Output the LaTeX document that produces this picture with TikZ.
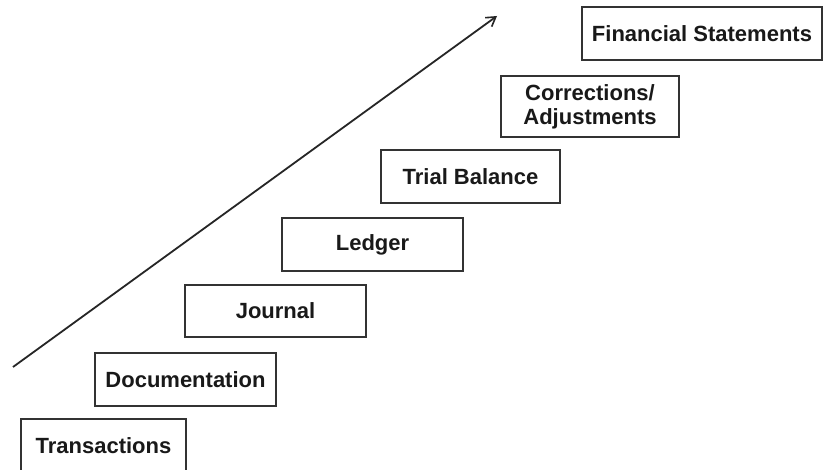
\documentclass[tikz,border=0pt]{standalone}
\usepackage{fontspec}
\setmainfont{Liberation Sans}
\usetikzlibrary{arrows.meta}
\begin{document}
\begin{tikzpicture}[x=1pt,y=-1pt,
  stepbox/.style={draw=black!80, line width=1.4pt, rectangle, inner sep=0pt,
    text=black!90, align=center,
    font=\fontsize{22}{24}\selectfont\bfseries},
  rise/.style={draw=black!85, line width=1.8pt,
    -{Straight Barb[length=9pt,width=11pt,line width=1.6pt]}}]
  % page area
  \useasboundingbox[fill=white] (0,0) rectangle (823,470);

  % the steps of the accounting cycle, bottom to top
  \node[stepbox, minimum width=165pt, minimum height=54pt] (trans) at (103.5,446) {Transactions};
  \node[stepbox, minimum width=181pt, minimum height=53pt] (doc) at (185.5,379.5) {Documentation};
  \node[stepbox, minimum width=181pt, minimum height=52pt] (journal) at (275.5,311) {Journal};
  \node[stepbox, minimum width=181pt, minimum height=53pt] (ledger) at (372.5,244.5) {Ledger};
  \node[stepbox, minimum width=179pt, minimum height=53pt] (trial) at (470.5,176.5) {Trial Balance};
  \node[stepbox, minimum width=178pt, minimum height=61pt] (corr) at (590,106.5) {Corrections/\\Adjustments};
  \node[stepbox, minimum width=240pt, minimum height=53pt] (fin) at (702,33.5) {Financial Statements};

  % rising arrow
  \coordinate (lo) at (13,367);
  \coordinate (hi) at (497,16);
  \draw[rise] (lo) -- (hi);
\end{tikzpicture}
\end{document}
